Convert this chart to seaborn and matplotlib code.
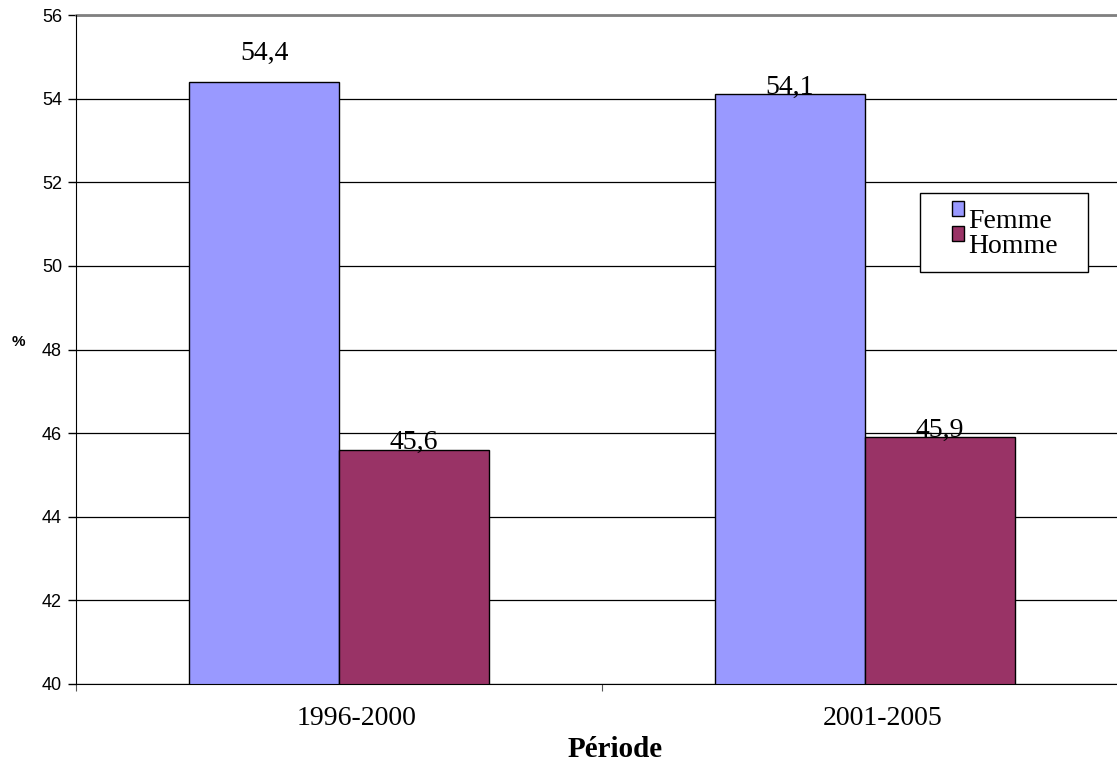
import matplotlib
matplotlib.use("Agg")
import matplotlib.pyplot as plt
import matplotlib.patches as mpatches
from matplotlib.legend_handler import HandlerPatch
from matplotlib.transforms import ScaledTranslation
import pandas as pd
import seaborn as sns

periodes = ["1996-2000", "2001-2005"]
femme = [54.4, 54.1]
homme = [45.6, 45.9]
sexes = ["Femme", "Homme"]
couleurs = ["#9999FF", "#993366"]

df = pd.DataFrame({
    "Période": periodes * 2,
    "Sexe": ["Femme"] * 2 + ["Homme"] * 2,
    "Valeur": femme + homme,
})

sns.set_style("white")
plt.rcParams.update({"text.color": "black", "axes.labelcolor": "black",
                     "xtick.color": "black", "ytick.color": "black"})
fig = plt.figure(figsize=(11.17, 7.61), dpi=100)
ax = fig.add_axes([76 / 1117, 1 - 684 / 761, 1052 / 1117, 669 / 761])

sns.barplot(data=df, x="Période", y="Valeur", hue="Sexe", hue_order=sexes,
            palette=couleurs, width=0.57, edgecolor="black", linewidth=1,
            saturation=1, ax=ax)

ax.set_ylim(40, 56)
ax.set_xlim(-0.5, 1.5)
ax.set_yticks(range(40, 57, 2))
ax.yaxis.grid(True, color="black", linewidth=0.9)
ax.set_axisbelow(True)
ax.tick_params(axis="y", direction="out", length=6, width=1, left=True,
               labelsize=13, pad=4)
for lbl in ax.get_yticklabels():
    lbl.set_fontfamily("Liberation Sans")

# category ticks at boundaries, labels near centres
ax.set_xticks([-0.5, 0.5, 1.5])
ax.set_xticklabels([])
ax.tick_params(axis="x", which="major", direction="out", length=5,
               bottom=True, color="#555555")
ax.set_xticks([0, 1], minor=True)
ax.set_xticklabels(periodes, minor=True, fontfamily="Liberation Serif",
                   fontsize=20)
ax.tick_params(axis="x", which="minor", length=0, pad=16)
shift = ScaledTranslation(18 / 100, 0, fig.dpi_scale_trans)
for lbl in ax.get_xticklabels(minor=True):
    lbl.set_transform(lbl.get_transform() + shift)

for side in ["top", "right"]:
    ax.spines[side].set_visible(False)
ax.spines["left"].set_color("black")
ax.spines["bottom"].set_color("black")
ax.plot([-0.5, 1.5], [56, 56], color="#808080", linewidth=2, clip_on=False)

ax.set_xlabel("Période", fontfamily="Liberation Serif", fontsize=21,
              fontweight="bold")
ax.xaxis.set_label_coords((615 - 76) / 1052, -0.078)
ax.set_ylabel("%", fontfamily="Liberation Sans", fontsize=11,
              fontweight="bold", rotation=0)
ax.yaxis.set_label_coords(-0.055, 0.5)

# value labels
offsets = [[16, 0.5], [0.5, 0.5]]
for cont, offs in zip(ax.containers, offsets):
    for bar, off in zip(cont.patches, offs):
        val = bar.get_height()
        ax.annotate(f"{val:.1f}".replace(".", ","),
                    (bar.get_x() + bar.get_width() / 2, val),
                    xytext=(0, off), textcoords="offset points",
                    ha="center", va="baseline", fontfamily="Liberation Serif",
                    fontsize=20)


def raised_square(legend, orig_handle, xdescent, ydescent, width, height,
                  fontsize):
    return mpatches.Rectangle((-xdescent, -ydescent + 7), width, height)


# legend box drawn separately (wide padding left/right, tight top/bottom)
box = mpatches.Rectangle(((920 - 76) / 1052, 1 - (272 - 15) / 669),
                         168 / 1052, 79 / 669, transform=ax.transAxes,
                         facecolor="white", edgecolor="black", linewidth=1,
                         zorder=4)
ax.add_patch(box)

leg = ax.legend(loc="upper left",
                bbox_to_anchor=((952 - 76) / 1052, 1 - (209 - 15) / 669),
                frameon=False, prop={"family": "Liberation Serif", "size": 20},
                handlelength=0.43, handleheight=0.43, handletextpad=0.15,
                labelspacing=0.0, borderpad=0, borderaxespad=0,
                handler_map={mpatches.Rectangle:
                             HandlerPatch(patch_func=raised_square)})
leg.set_zorder(5)
for h in leg.legend_handles:
    h.set_edgecolor("black")
    h.set_linewidth(1)

fig.savefig("out.png", dpi=100)
